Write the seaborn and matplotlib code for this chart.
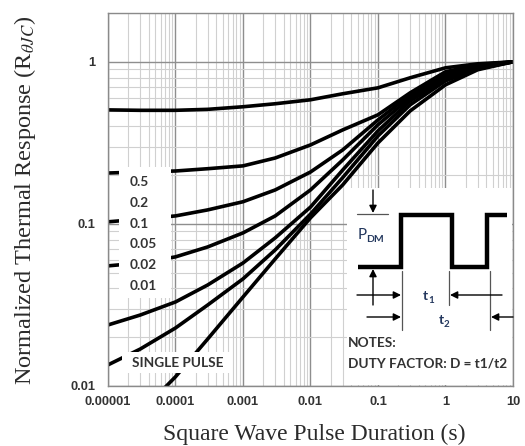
import numpy as np
import pandas as pd
import matplotlib
matplotlib.use('Agg')
import matplotlib.pyplot as plt
import seaborn as sns
from matplotlib.patches import Rectangle

PULSE_T = [1e-5, 3e-5, 1e-4, 3e-4, 1e-3, 3e-3, 1e-2, 3e-2, 0.1, 0.3, 1, 3, 10]

# Normalized thermal response Zth/RthJC per duty factor
D_050 = [0.505, 0.502, 0.502, 0.509, 0.528, 0.551, 0.583, 0.635, 0.691, 0.797, 0.918, 0.972, 1.0]
D_020 = [0.206, 0.209, 0.212, 0.219, 0.228, 0.255, 0.307, 0.380, 0.471, 0.644, 0.868, 0.958, 1.0]
D_010 = [0.103, 0.107, 0.112, 0.122, 0.137, 0.162, 0.209, 0.286, 0.438, 0.626, 0.843, 0.945, 1.0]
D_005 = [0.0551, 0.0574, 0.0626, 0.0721, 0.088, 0.112, 0.162, 0.248, 0.409, 0.600, 0.820, 0.931, 1.0]
D_002 = [0.0238, 0.0274, 0.0330, 0.0420, 0.0574, 0.082, 0.127, 0.215, 0.375, 0.574, 0.785, 0.918, 1.0]
D_001 = [0.0135, 0.0169, 0.0228, 0.0316, 0.0458, 0.0691, 0.115, 0.193, 0.349, 0.543, 0.763, 0.905, 1.0]

SINGLE_T = [7e-5, 1e-4, 3e-4, 1e-3, 3e-3, 1e-2, 3e-2, 0.1, 0.3, 1, 3, 10]
SINGLE = [0.0098, 0.0114, 0.0195, 0.0354, 0.0608, 0.109, 0.174, 0.316, 0.498, 0.721, 0.893, 1.0]

DUTY_LABELS = ['0.5', '0.2', '0.1', '0.05', '0.02', '0.01']
X_TICKS = [1e-5, 1e-4, 1e-3, 1e-2, 1e-1, 1, 10]
X_TICKLABELS = ['0.00001', '0.0001', '0.001', '0.01', '0.1', '1', '10']
Y_TICKS = [0.01, 0.1, 1]
Y_TICKLABELS = ['0.01', '0.1', '1']

# long-form table for seaborn
frames = []
for name, vals in zip(DUTY_LABELS, [D_050, D_020, D_010, D_005, D_002, D_001]):
    frames.append(pd.DataFrame({'t': PULSE_T, 'z': vals, 'curve': name}))
frames.append(pd.DataFrame({'t': SINGLE_T, 'z': SINGLE, 'curve': 'single'}))
df = pd.concat(frames, ignore_index=True)

sns.set_theme(style='white')
plt.rcParams['mathtext.fontset'] = 'stix'

W, H = 525, 446
fig = plt.figure(figsize=(W / 100, H / 100), dpi=100)
ax = fig.add_axes([108 / W, 1 - 386 / H, 405 / W, 373 / H])
ax.set_xscale('log')
ax.set_yscale('log')

sns.lineplot(data=df, x='t', y='z', hue='curve', estimator=None,
             palette={k: 'black' for k in df['curve'].unique()},
             legend=False, linewidth=2.6, ax=ax)

ax.set_xlim(1e-5, 10)
ax.set_ylim(0.01, 2)
ax.set_xticks(X_TICKS)
ax.set_xticklabels(X_TICKLABELS)
ax.set_yticks(Y_TICKS)
ax.set_yticklabels(Y_TICKLABELS)
ax.xaxis.set_minor_locator(matplotlib.ticker.LogLocator(base=10, subs=np.arange(2, 10)))
ax.yaxis.set_minor_locator(matplotlib.ticker.LogLocator(base=10, subs=np.arange(2, 10)))
ax.xaxis.set_minor_formatter(matplotlib.ticker.NullFormatter())
ax.yaxis.set_minor_formatter(matplotlib.ticker.NullFormatter())
ax.tick_params(which='both', length=0)
ax.tick_params(axis='x', pad=7)
ax.tick_params(axis='y', pad=9)
for lab in ax.get_xticklabels() + ax.get_yticklabels():
    lab.set_fontfamily('Liberation Sans')
    lab.set_fontweight('bold')
    lab.set_fontsize(9.3)
    lab.set_color('#333333')
ax.grid(True, which='major', color='#8e8e8e', linewidth=1.0)
ax.grid(True, which='minor', color='#d0d0d0', linewidth=0.8)
ax.set_axisbelow(True)
for sp in ax.spines.values():
    sp.set_color('#8a8a8a')
    sp.set_linewidth(1.0)
ax.set_xlabel('')
ax.set_ylabel('')

fig.text(25 / W, 1 - 200 / H, 'Normalized Thermal Response (R$_{\\theta JC}$)',
         rotation=90, ha='center', va='center', fontsize=17.5,
         family='Liberation Serif', color='#2b2b2b')
fig.text(314 / W, 1 / H, 'Square Wave Pulse Duration (s)',
         ha='center', va='bottom', fontsize=17,
         family='Liberation Serif', color='#2b2b2b')

# overlay in pixel coordinates for the boxed annotations
ov = fig.add_axes([0, 0, 1, 1])
ov.set_xlim(0, W)
ov.set_ylim(H, 0)
ov.axis('off')
ov.patch.set_alpha(0)

label_font = dict(family='Lato', fontsize=9.8, fontweight='bold', color='#333333')

# duty factor labels
ov.add_patch(Rectangle((119, 167), 52, 131, facecolor='white', edgecolor='none'))
for i, lab in enumerate(DUTY_LABELS):
    ov.text(130, 182 + i * 20.8, lab, ha='left', va='center', **label_font)

# single pulse label
ov.add_patch(Rectangle((122, 352), 110, 21, facecolor='white', edgecolor='none'))
ov.text(132, 363, 'SINGLE PULSE', ha='left', va='center', **label_font)

# duty cycle diagram
ov.add_patch(Rectangle((347, 188), 165, 197, facecolor='white', edgecolor='none'))
ov.plot([358, 401, 401, 452, 452, 487, 487, 507],
        [267, 267, 215, 215, 267, 267, 215, 215],
        color='black', linewidth=3.2, solid_joinstyle='miter', solid_capstyle='butt')
thin = dict(color='#555555', linewidth=0.9)
ov.plot([357, 388], [214, 214], **thin)
ov.plot([402, 402], [271, 330], **thin)
ov.plot([449, 449], [271, 305], **thin)
ov.plot([490, 490], [271, 330], **thin)
arr = dict(arrowstyle='-|>', color='black', lw=1.0, mutation_scale=11, shrinkA=0, shrinkB=0)
ov.annotate('', xy=(373, 213), xytext=(373, 190), arrowprops=arr)
ov.annotate('', xy=(373, 269), xytext=(373, 305), arrowprops=arr)
ov.annotate('', xy=(401, 295), xytext=(357, 295), arrowprops=arr)
ov.annotate('', xy=(450, 295), xytext=(502, 295), arrowprops=arr)
ov.annotate('', xy=(401, 317), xytext=(367, 317), arrowprops=arr)
ov.annotate('', xy=(491, 317), xytext=(513, 317), arrowprops=arr)

blue = '#24385e'
ov.text(358, 239, 'P', ha='left', va='baseline', family='Lato', fontsize=11, color=blue)
ov.text(366, 242, 'DM', ha='left', va='baseline', family='Lato', fontsize=7.5,
        fontweight='bold', color=blue)
ov.text(423, 300, 't', ha='left', va='baseline', family='Lato', fontsize=10,
        fontweight='bold', color=blue)
ov.text(428, 303, '1', ha='left', va='baseline', family='Lato', fontsize=7,
        fontweight='bold', color=blue)
ov.text(439, 324, 't', ha='left', va='baseline', family='Lato', fontsize=10,
        fontweight='bold', color=blue)
ov.text(444, 327, '2', ha='left', va='baseline', family='Lato', fontsize=7,
        fontweight='bold', color=blue)

ov.text(348, 343, 'NOTES:', ha='left', va='center', **label_font)
ov.text(348, 363, 'DUTY FACTOR: D = t1/t2', ha='left', va='center', **label_font)

fig.savefig('out.png', dpi=100)
